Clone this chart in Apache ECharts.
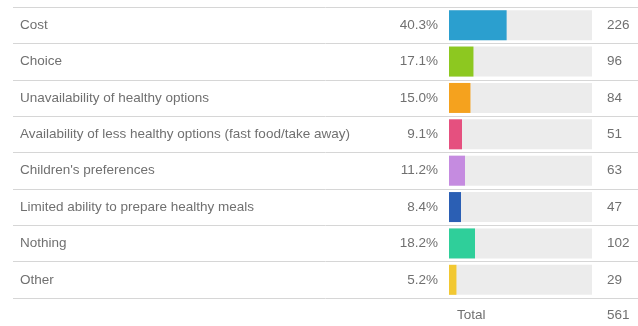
<!DOCTYPE html>
<html><head><meta charset="utf-8">
<script src="https://cdn.jsdelivr.net/npm/echarts@6/dist/echarts.min.js"></script>
<style>html,body{margin:0;padding:0;background:#fff}#c{width:638px;height:326px}</style>
</head><body><div id="c"></div>
<script>
var categories = ["Cost","Choice","Unavailability of healthy options","Availability of less healthy options (fast food/take away)","Children's preferences","Limited ability to prepare healthy meals","Nothing","Other"];
var percents = [40.3,17.1,15.0,9.1,11.2,8.4,18.2,5.2];
var counts = [226,96,84,51,63,47,102,29];
var colors = ["#2b9fcf","#8dc820","#f5a21e","#e5507f","#c58be0","#2b5fb4","#2fcf9a","#f2c832"];
var totalLabel = "Total";
var totalValue = 561;

var txt = '#707070';
var font = 'Liberation Sans, Arial, sans-serif';
var fs = 13.5;
var chart = echarts.init(document.getElementById('c'));
chart.setOption({
  animation:false,
  grid:[
    {left:13,right:0,top:7,bottom:28},
    {left:449,right:46,top:7,bottom:28}
  ],
  xAxis:[
    {gridIndex:0,type:'value',show:false,min:0,max:1},
    {gridIndex:1,type:'value',show:false,min:0,max:100}
  ],
  yAxis:[
    {gridIndex:0,type:'category',inverse:true,data:categories,
     axisLine:{show:false},axisTick:{show:false},
     axisLabel:{inside:true,margin:7,color:txt,fontSize:fs,fontFamily:font,padding:[2,0,0,0]},
     splitLine:{show:true,lineStyle:{color:'#d6d6d6',width:1}}},
    {gridIndex:1,type:'category',inverse:true,data:categories,show:false},
    {gridIndex:1,type:'category',inverse:true,position:'right',data:counts.map(String),
     axisLine:{show:false},axisTick:{show:false},
     axisLabel:{margin:15,align:'left',color:txt,fontSize:fs,fontFamily:font,padding:[2,0,0,0]}}
  ],
  series:[{
    type:'bar',xAxisIndex:1,yAxisIndex:1,barWidth:30,
    data:percents.map(function(v,i){return {value:v,itemStyle:{color:colors[i]}};}),
    showBackground:true,backgroundStyle:{color:'#ececec'},
    label:{show:true,position:'left',distance:11,color:txt,fontSize:fs,fontFamily:font,padding:[2,0,0,0],
      formatter:function(p){return percents[p.dataIndex].toFixed(1)+'%';}}
  }],
  graphic:[
    {type:'text',left:457,top:308,style:{text:totalLabel,fill:txt,font:fs+'px '+font}},
    {type:'text',left:607,top:308,style:{text:String(totalValue),fill:txt,font:fs+'px '+font}}
  ]
});
</script></body></html>
